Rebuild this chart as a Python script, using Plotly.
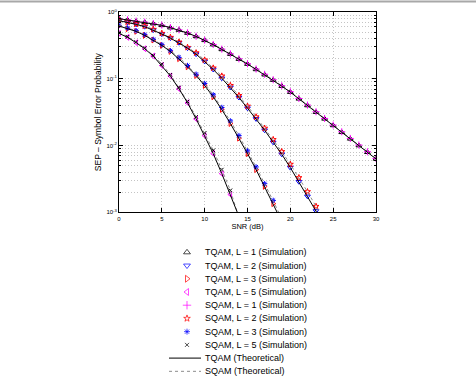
import plotly.graph_objects as go

# ---------------- data ----------------
snr = list(range(31))

tqam_L1 = [0.794, 0.759, 0.724, 0.700, 0.668, 0.631, 0.582, 0.537, 0.484, 0.431, 0.376,
           0.324, 0.275, 0.234, 0.197, 0.166, 0.138, 0.115, 0.0955, 0.0776, 0.0631,
           0.0501, 0.0398, 0.0316, 0.0251, 0.0200, 0.0158, 0.0126, 0.0100, 0.00794, 0.00631]
tqam_L2 = [0.741, 0.700, 0.653, 0.603, 0.537, 0.468, 0.407, 0.347, 0.288, 0.234, 0.182,
           0.138, 0.102, 0.0741, 0.0525, 0.0363, 0.0251, 0.0170, 0.0112, 0.00741, 0.00468,
           0.00288, 0.00174, 0.00105, 0.000631]
tqam_L3 = [0.617, 0.562, 0.513, 0.447, 0.380, 0.316, 0.257, 0.200, 0.151, 0.112, 0.0794,
           0.0537, 0.0347, 0.0214, 0.0129, 0.00759, 0.00437, 0.00245, 0.00135, 0.000724]
tqam_L5 = [0.479, 0.417, 0.347, 0.282, 0.219, 0.158, 0.110, 0.0708, 0.0437, 0.0251, 0.0141,
           0.00759, 0.00380, 0.00186, 0.000871]

sqam_L1 = [0.800, 0.765, 0.730, 0.705, 0.672, 0.635, 0.586, 0.540, 0.488, 0.434, 0.379,
           0.327, 0.278, 0.236, 0.199, 0.168, 0.140, 0.117, 0.0968, 0.0787, 0.0640,
           0.0508, 0.0404, 0.0321, 0.0255, 0.0203, 0.0161, 0.0128, 0.0102, 0.00808, 0.00642]
sqam_L2 = [0.750, 0.708, 0.661, 0.617, 0.550, 0.479, 0.417, 0.355, 0.295, 0.245, 0.191,
           0.145, 0.110, 0.0794, 0.0562, 0.0389, 0.0269, 0.0182, 0.0123, 0.00813, 0.00525,
           0.00331, 0.00204, 0.00123, 0.000741]
sqam_L3 = [0.631, 0.575, 0.525, 0.457, 0.389, 0.324, 0.263, 0.209, 0.158, 0.117, 0.0851,
           0.0575, 0.0372, 0.0234, 0.0141, 0.00832, 0.00479, 0.00269, 0.00151, 0.000813]
sqam_L5 = [0.490, 0.427, 0.355, 0.288, 0.224, 0.166, 0.115, 0.0741, 0.0457, 0.0269, 0.0155,
           0.00851, 0.00437, 0.00214, 0.000832]

y_tickvals = [1, 0.1, 0.01, 0.001]
y_ticktext = ["10<sup>0</sup>", "10<sup>-1</sup>", "10<sup>-2</sup>", "10<sup>-3</sup>"]
x_tickvals = [0, 5, 10, 15, 20, 25, 30]

sim_names = ["TQAM, L = 1 (Simulation)", "TQAM, L = 2 (Simulation)",
             "TQAM, L = 3 (Simulation)", "TQAM, L = 5 (Simulation)",
             "SQAM, L = 1 (Simulation)", "SQAM, L = 2 (Simulation)",
             "SQAM, L = 3 (Simulation)", "SQAM, L = 5 (Simulation)"]
theory_names = ["TQAM (Theoretical)", "SQAM (Theoretical)"]

# ---------------- styles ----------------
BLACK, BLUE, RED, MAG = "#000000", "#0000ff", "#ff0000", "#ff00ff"
sim_series = [tqam_L1, tqam_L2, tqam_L3, tqam_L5, sqam_L1, sqam_L2, sqam_L3, sqam_L5]
sim_symbols = ["triangle-up-open", "triangle-down-open", "triangle-right-open",
               "triangle-left-open", "cross-thin-open", "star-open",
               "asterisk-open", "x-thin-open"]
sim_colors = [BLACK, BLUE, RED, MAG, MAG, RED, BLUE, BLACK]
sim_sizes = [5, 5, 5, 5, 5, 4.5, 4.5, 3.5]
leg_sizes = [6, 6, 6, 6, 6, 5, 5, 4]

FONT = "Arial, Liberation Sans, Helvetica, sans-serif"
GRIDC = "#c4c4c4"
GRID_DASH = "1px,2px"

fig = go.Figure()

for vals, sym, col, sz in zip(sim_series, sim_symbols, sim_colors, sim_sizes):
    fig.add_trace(go.Scatter(
        x=snr[:len(vals)], y=vals, mode="markers",
        marker=dict(symbol=sym, size=sz, color=col, line=dict(color=col, width=1)),
        showlegend=False, hoverinfo="skip", xaxis="x", yaxis="y"))

for vals in [sqam_L1, sqam_L2, sqam_L3, sqam_L5]:
    fig.add_trace(go.Scatter(
        x=snr[:len(vals)], y=vals, mode="lines",
        line=dict(color="#8c8c8c", width=1, dash="dot"),
        showlegend=False, hoverinfo="skip", xaxis="x", yaxis="y"))
for vals in [tqam_L1, tqam_L2, tqam_L3, tqam_L5]:
    fig.add_trace(go.Scatter(
        x=snr[:len(vals)], y=vals, mode="lines",
        line=dict(color="black", width=1),
        showlegend=False, hoverinfo="skip", xaxis="x", yaxis="y"))

# ---------------- custom compact legend (x2 / y2 in pixel-like units) ----------------
LEG_MARK_X = 187
LEG_LINE_X = [169, 201]
LEG_TEXT_X = 203
rows = list(range(len(sim_names) + len(theory_names)))

fig.add_trace(go.Scatter(
    x=[LEG_MARK_X] * len(sim_names), y=rows[:len(sim_names)], mode="markers",
    marker=dict(symbol=sim_symbols, size=leg_sizes, color=sim_colors,
                line=dict(color=sim_colors, width=1)),
    showlegend=False, hoverinfo="skip", xaxis="x2", yaxis="y2"))
fig.add_trace(go.Scatter(
    x=LEG_LINE_X, y=[rows[8]] * 2, mode="lines", line=dict(color="black", width=1),
    showlegend=False, hoverinfo="skip", xaxis="x2", yaxis="y2"))
fig.add_trace(go.Scatter(
    x=LEG_LINE_X, y=[rows[9]] * 2, mode="lines",
    line=dict(color="#8c8c8c", width=1, dash="dot"),
    showlegend=False, hoverinfo="skip", xaxis="x2", yaxis="y2"))

annotations = []
for r, name in zip(rows, sim_names + theory_names):
    annotations.append(dict(x=LEG_TEXT_X, y=r, xref="x2", yref="y2", text=name,
                            showarrow=False, xanchor="left", yanchor="middle",
                            font=dict(family=FONT, size=9, color="black")))

GRID = dict(showgrid=True, gridcolor=GRIDC, gridwidth=1, griddash=GRID_DASH)

fig.update_layout(
    width=476, height=386,
    margin=dict(l=119, r=100, t=12, b=4),
    paper_bgcolor="white", plot_bgcolor="white",
    font=dict(family=FONT, size=6, color="black"),
    showlegend=False,
    annotations=annotations,
    xaxis=dict(domain=[0, 1], anchor="y", range=[0, 30], tickvals=x_tickvals,
               ticks="inside", ticklen=4, tickcolor="black", tickwidth=1,
               showline=True, linecolor="black", linewidth=1, mirror="allticks",
               zeroline=False, tickfont=dict(size=6),
               title=dict(text="SNR (dB)", font=dict(size=7.5), standoff=2),
               **GRID),
    yaxis=dict(domain=[0.454, 1], anchor="x", type="log", range=[-3, 0],
               tickvals=y_tickvals, ticktext=y_ticktext,
               ticks="inside", ticklen=4, tickcolor="black", tickwidth=1,
               showline=True, linecolor="black", linewidth=1, mirror="allticks",
               zeroline=False, tickfont=dict(size=6),
               title=dict(text="SEP – Symbol Error Probability", font=dict(size=8.5), standoff=3),
               minor=dict(dtick="D1", ticks="inside", ticklen=2, tickcolor="black",
                          showgrid=True, gridcolor=GRIDC, griddash=GRID_DASH),
               **GRID),
    xaxis2=dict(domain=[0, 1], anchor="y2", range=[119, 376], visible=False),
    yaxis2=dict(domain=[0, 0.3632], anchor="x2", range=[9.58, -0.5], visible=False),
    shapes=[dict(type="line", xref="paper", yref="paper", x0=-1, x1=2,
                 y0=1.0284, y1=1.0284, line=dict(color="#a8a8a8", width=2))],
)

fig.write_html("out.html")
